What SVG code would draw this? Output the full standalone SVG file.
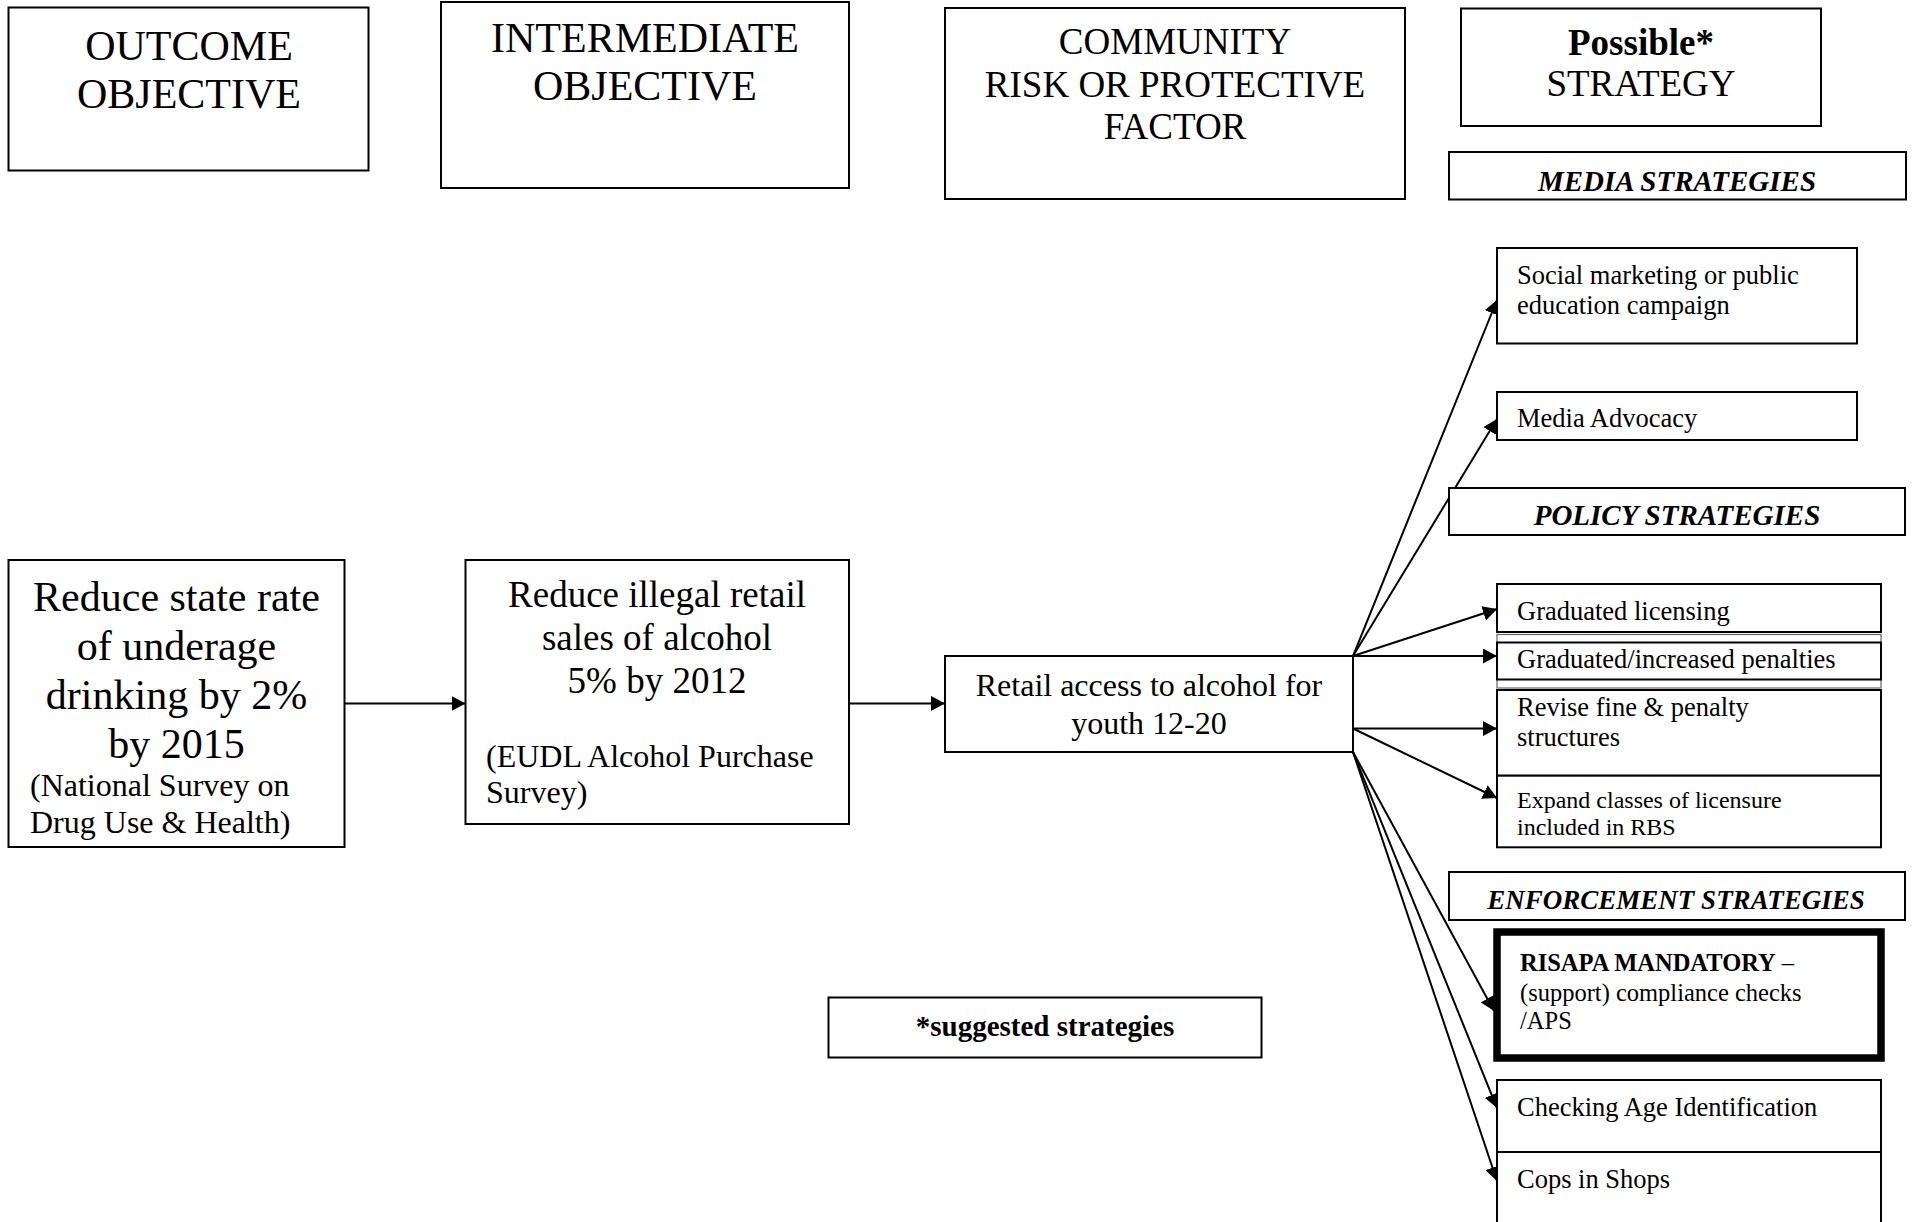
<svg xmlns="http://www.w3.org/2000/svg" width="1916" height="1222" viewBox="0 0 1916 1222">
<defs>
<marker id="arr" markerWidth="15" markerHeight="15" refX="14" refY="7.5" orient="auto" markerUnits="userSpaceOnUse"><path d="M0,0 L14,7.5 L0,15 z" fill="#000"/></marker>
<style>
.box{fill:#fff;stroke:#000;stroke-width:2}
.thin{fill:none;stroke:#666;stroke-width:1.2}
.t{font-family:"Liberation Serif","Times New Roman",serif;fill:#000}
.c{text-anchor:middle}
.h1{font-size:42px}
.h2{font-size:37px}
.bi{font-size:29px;font-weight:bold;font-style:italic}
.s{font-size:26.5px}
.m{font-size:32px}
.conn{stroke:#000;stroke-width:2;fill:none;marker-end:url(#arr)}
</style>
</defs>
<rect width="1916" height="1222" fill="#fff"/>

<g id="connectors">
<line class="conn" x1="345" y1="703.5" x2="465.5" y2="703.5"/>
<line class="conn" x1="849" y1="703.5" x2="945" y2="703.5"/>
<line class="conn" x1="1353" y1="656" x2="1497" y2="300"/>
<line class="conn" x1="1353" y1="656" x2="1497" y2="419"/>
<line class="conn" x1="1353" y1="656" x2="1497" y2="609"/>
<line class="conn" x1="1353" y1="656" x2="1497" y2="656"/>
<line class="conn" x1="1353" y1="728.5" x2="1497" y2="728.5"/>
<line class="conn" x1="1353" y1="728.5" x2="1497" y2="798"/>
<line class="conn" x1="1353" y1="752" x2="1494" y2="1011"/>
<line class="conn" x1="1353" y1="752" x2="1497" y2="1108"/>
<line class="conn" x1="1353" y1="752" x2="1497" y2="1181"/>
</g>

<g id="hdr-outcome">
<rect class="box" x="8.5" y="7.5" width="360" height="163"/>
<text class="t c h1" x="189" y="60">OUTCOME</text>
<text class="t c h1" x="189" y="108">OBJECTIVE</text>
</g>
<g id="hdr-intermediate">
<rect class="box" x="441" y="2" width="408" height="186"/>
<text class="t c h1" x="645" y="52">INTERMEDIATE</text>
<text class="t c h1" x="645" y="100">OBJECTIVE</text>
</g>
<g id="hdr-community">
<rect class="box" x="945" y="8" width="460" height="191"/>
<text class="t c h2" x="1175" y="53.5">COMMUNITY</text>
<text class="t c h2" x="1175" y="96.7">RISK OR PROTECTIVE</text>
<text class="t c h2" x="1175" y="138.5">FACTOR</text>
</g>
<g id="hdr-strategy">
<rect class="box" x="1461" y="8.5" width="360" height="117.5"/>
<text class="t c h2" x="1641" y="54.5" font-weight="bold">Possible*</text>
<text class="t c h2" x="1641" y="96">STRATEGY</text>
</g>

<g id="media-label">
<rect class="box" x="1449" y="152" width="457" height="47.5"/>
<text class="t c bi" x="1677" y="190.5">MEDIA STRATEGIES</text>
</g>
<g id="social">
<rect class="box" x="1497" y="248" width="360" height="95.5"/>
<text class="t s" x="1517" y="284">Social marketing or public</text>
<text class="t s" x="1517" y="313.5">education campaign</text>
</g>
<g id="media-advocacy">
<rect class="box" x="1497" y="392" width="360" height="48"/>
<text class="t s" x="1517" y="426.5">Media Advocacy</text>
</g>
<g id="policy-label">
<rect class="box" x="1449" y="488" width="456" height="47"/>
<text class="t c bi" x="1677" y="525">POLICY STRATEGIES</text>
</g>
<g id="grad-licensing">
<rect class="box" x="1497" y="584" width="384" height="48"/>
<text class="t s" x="1517" y="620">Graduated licensing</text>
</g>
<g id="grad-penalties">
<rect class="thin" x="1497" y="634.5" width="384" height="53.5"/>
<rect class="box" x="1497" y="642.5" width="384" height="37"/>
<text class="t s" x="1517" y="667.5">Graduated/increased penalties</text>
</g>
<g id="revise">
<rect class="box" x="1497" y="690" width="384" height="85.7"/>
<text class="t s" x="1517" y="715.5">Revise fine &amp; penalty</text>
<text class="t s" x="1517" y="746">structures</text>
</g>
<g id="expand">
<rect class="box" x="1497" y="775.7" width="384" height="71.6"/>
<text class="t" x="1517" y="807.7" font-size="24">Expand classes of licensure</text>
<text class="t" x="1517" y="835" font-size="24">included in RBS</text>
</g>
<g id="enforcement-label">
<rect class="box" x="1449" y="872" width="456" height="48"/>
<text class="t c" x="1676" y="908.5" font-size="27" font-weight="bold" font-style="italic">ENFORCEMENT STRATEGIES</text>
</g>
<g id="risapa">
<rect x="1497" y="932" width="384" height="126" fill="#fff" stroke="#000" stroke-width="7.5"/>
<text class="t" x="1520" y="970.5" font-size="24.5"><tspan font-weight="bold">RISAPA MANDATORY</tspan> –</text>
<text class="t" x="1520" y="1001" font-size="24.5">(support) compliance checks</text>
<text class="t" x="1520" y="1029" font-size="24.5">/APS</text>
</g>
<g id="checking">
<rect class="box" x="1497" y="1080" width="384" height="72"/>
<text class="t s" x="1517" y="1116">Checking Age Identification</text>
</g>
<g id="cops">
<rect class="box" x="1497" y="1152" width="384" height="90"/>
<text class="t s" x="1517" y="1187.7">Cops in Shops</text>
</g>

<g id="outcome">
<rect class="box" x="8.5" y="560" width="336" height="287"/>
<text class="t c h1" x="176.5" y="610.5">Reduce state rate</text>
<text class="t c h1" x="176.5" y="659.5">of underage</text>
<text class="t c h1" x="176.5" y="708.5">drinking by 2%</text>
<text class="t c h1" x="176.5" y="757.5">by 2015</text>
<text class="t m" x="30" y="796">(National Survey on</text>
<text class="t m" x="30" y="832.7">Drug Use &amp; Health)</text>
</g>
<g id="intermediate">
<rect class="box" x="465.5" y="560" width="383.5" height="264"/>
<text class="t c h2" x="657" y="606.5">Reduce illegal retail</text>
<text class="t c h2" x="657" y="649.5">sales of alcohol</text>
<text class="t c h2" x="657" y="692.5">5% by 2012</text>
<text class="t m" x="486" y="766.7">(EUDL Alcohol Purchase</text>
<text class="t m" x="486" y="802.7">Survey)</text>
</g>
<g id="retail">
<rect class="box" x="945" y="656" width="408" height="96"/>
<text class="t c m" x="1149" y="696">Retail access to alcohol for</text>
<text class="t c m" x="1149" y="734.3">youth 12-20</text>
</g>
<g id="suggested">
<rect class="box" x="828.5" y="997.5" width="433" height="60"/>
<text class="t c" x="1045" y="1036" font-size="29" font-weight="bold">*suggested strategies</text>
</g>
</svg>
